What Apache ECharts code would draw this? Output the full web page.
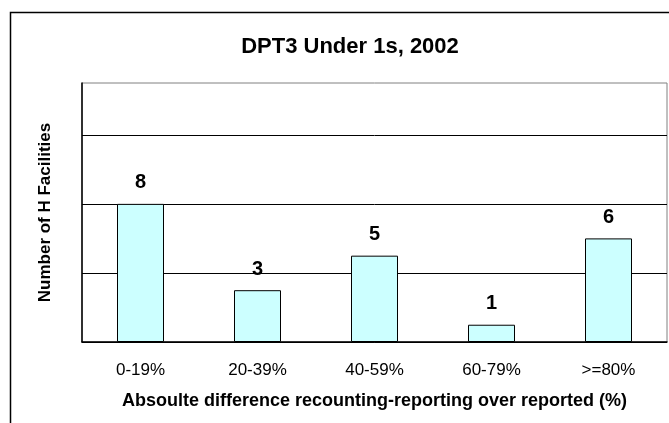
<!DOCTYPE html>
<html>
<head>
<meta charset="utf-8">
<script src="https://cdn.jsdelivr.net/npm/echarts@6/dist/echarts.min.js"></script>
<style>
  html, body { margin: 0; padding: 0; background: #fff; }
  #chart { width: 669px; height: 423px; }
</style>
</head>
<body>
<div id="chart"></div>
<script>
var categories = ['0-19%', '20-39%', '40-59%', '60-79%', '>=80%'];
var facilities = [8, 3, 5, 1, 6];
var yMax = 15;
var yStep = 4;

var chart = echarts.init(document.getElementById('chart'));
chart.setOption({
  animation: false,
  textStyle: { fontFamily: 'Liberation Sans, Arial, sans-serif' },
  graphic: [{
    type: 'rect',
    shape: { x: 10.5, y: 12.5, width: 700, height: 500 },
    style: { fill: 'none', stroke: '#000', lineWidth: 1.5 },
    z: -1
  }],
  title: {
    text: 'DPT3 Under 1s, 2002',
    left: 345,
    top: 31,
    textAlign: 'center',
    textStyle: { fontSize: 22, fontWeight: 'bold', color: '#000' }
  },
  grid: {
    left: 82, right: 2, top: 83, bottom: 81,
    show: true,
    borderColor: '#808080',
    borderWidth: 1,
    backgroundColor: '#fff'
  },
  xAxis: {
    type: 'category',
    data: categories,
    axisLine: { lineStyle: { color: '#000', width: 1.5 } },
    axisTick: { show: false },
    axisLabel: { color: '#000', fontSize: 17, margin: 20 },
    name: 'Absoulte difference recounting-reporting over reported (%)',
    nameLocation: 'middle',
    nameGap: 50,
    nameTextStyle: { color: '#000', fontSize: 18, fontWeight: 'bold' }
  },
  yAxis: {
    type: 'value',
    min: 0,
    max: yMax,
    interval: yStep,
    axisLine: { show: true, lineStyle: { color: '#000', width: 1.5 } },
    axisTick: { show: false },
    axisLabel: { show: false },
    splitLine: { showMaxLine: false, lineStyle: { color: '#000', width: 1 } },
    name: 'Number of H Facilities',
    nameLocation: 'middle',
    nameGap: 28,
    nameRotate: 90,
    nameTextStyle: { color: '#000', fontSize: 17, fontWeight: 'bold' }
  },
  series: [{
    type: 'bar',
    data: facilities,
    barWidth: 47,
    itemStyle: { color: '#CCFFFF', borderColor: '#000', borderWidth: 1 },
    label: {
      show: true,
      position: 'top',
      distance: 11,
      color: '#000',
      fontSize: 20,
      fontWeight: 'bold'
    }
  }]
});
</script>
</body>
</html>
